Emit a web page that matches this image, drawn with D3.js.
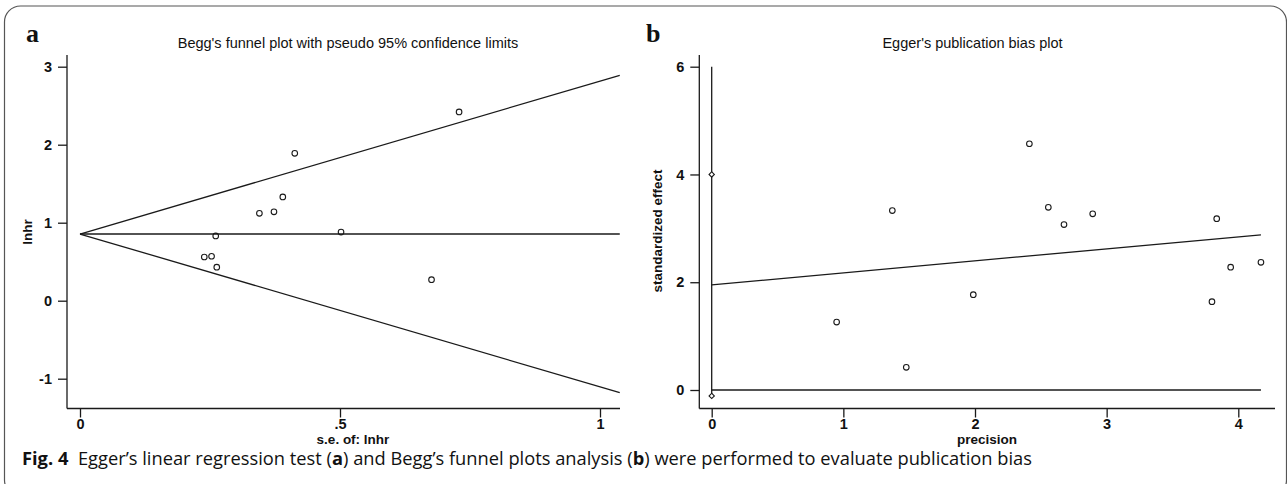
<!DOCTYPE html>
<html>
<head>
<meta charset="utf-8">
<script src="https://cdn.jsdelivr.net/npm/d3@7"></script>
<style>
  body { margin: 0; background: #fff; }
  svg text { fill: #111; }
</style>
</head>
<body>
<svg id="chart" width="1287" height="484"></svg>
<script>
// Panel a: Begg's funnel plot (se, lnhr)
const beggSe = [0.345, 0.373, 0.261, 0.239, 0.253, 0.263, 0.390, 0.413, 0.729, 0.502, 0.676];
const beggLnhr = [1.12, 1.14, 0.83, 0.56, 0.57, 0.43, 1.33, 1.89, 2.42, 0.88, 0.27];
const beggPooled = 0.855;
const beggSeMax = 1.038;
const beggXTicks = [0, 0.5, 1];
const beggXLabels = ['0', '.5', '1'];
const beggYTicks = [-1, 0, 1, 2, 3];

// Panel b: Egger's publication bias plot (precision, standardized effect)
const eggerPrecision = [1.372, 2.413, 2.557, 2.676, 2.894, 3.836, 0.949, 1.478, 1.987, 3.800, 3.942, 4.172];
const eggerEffect = [3.33, 4.57, 3.39, 3.07, 3.27, 3.18, 1.26, 0.42, 1.77, 1.64, 2.28, 2.37];
const eggerIntercept = 1.95;
const eggerSlope = 0.223;
const eggerCI = [-0.11, 4.0];
const eggerXTicks = [0, 1, 2, 3, 4];
const eggerYTicks = [0, 2, 4, 6];

const svg = d3.select('#chart');
const ink = '#1a1a1a';

// outer frame
svg.append('rect')
  .attr('x', 4.5).attr('y', 6).attr('width', 1282).attr('height', 490)
  .attr('rx', 16).attr('ry', 16)
  .attr('fill', 'none').attr('stroke', '#555').attr('stroke-width', 1.2);

function line(g, x1, y1, x2, y2) {
  g.append('line')
    .attr('x1', x1).attr('y1', y1).attr('x2', x2).attr('y2', y2)
    .attr('stroke', ink).attr('stroke-width', 1.3);
}

function styleAxis(g) {
  g.select('.domain').remove();
  g.selectAll('.tick line').attr('stroke', ink).attr('stroke-width', 1.3);
  g.selectAll('.tick text')
    .style('font-family', '"Liberation Sans", Arial, sans-serif')
    .style('font-weight', 'bold')
    .style('font-size', '14.5px')
    .attr('fill', ink);
}

function drawFrame(opt) {
  const g = svg.append('g');
  // axis lines
  line(g, opt.axisX, 55, opt.axisX, 408.5);
  line(g, opt.axisX, 408.5, opt.axisEnd, 408.5);

  g.append('g')
    .attr('transform', `translate(${opt.axisX},0)`)
    .call(d3.axisLeft(opt.y).tickValues(opt.yTicks).tickSize(9).tickPadding(6).tickFormat(d => String(d)))
    .call(styleAxis);

  g.append('g')
    .attr('transform', 'translate(0,408.5)')
    .call(d3.axisBottom(opt.x).tickValues(opt.xTicks).tickSize(9).tickPadding(1)
      .tickFormat((d, i) => opt.xLabels ? opt.xLabels[i] : String(d)))
    .call(styleAxis);

  // panel letter
  g.append('text')
    .attr('x', opt.letterX).attr('y', 42)
    .style('font-family', '"Liberation Serif", "Times New Roman", serif')
    .style('font-weight', 'bold').style('font-size', '26px')
    .text(opt.letter);

  // title
  g.append('text')
    .attr('x', opt.titleX).attr('y', 48).attr('text-anchor', 'middle')
    .style('font-family', '"Liberation Sans", Arial, sans-serif')
    .style('font-size', '14.5px')
    .text(opt.title);

  // axis titles
  g.append('text')
    .attr('x', opt.xTitleX).attr('y', opt.xTitleY).attr('text-anchor', 'middle')
    .style('font-family', '"Liberation Sans", Arial, sans-serif')
    .style('font-weight', 'bold').style('font-size', '13.5px')
    .text(opt.xTitle);

  g.append('text')
    .attr('transform', `translate(${opt.yTitleX},${opt.yTitleY}) rotate(-90)`)
    .attr('text-anchor', 'middle')
    .style('font-family', '"Liberation Sans", Arial, sans-serif')
    .style('font-weight', 'bold').style('font-size', '13.5px')
    .text(opt.yTitle);

  return g;
}

function drawPoints(g, xs, ys, x, y) {
  g.selectAll('circle.pt')
    .data(xs.map((v, i) => [v, ys[i]]))
    .enter()
    .append('circle')
    .attr('class', 'pt')
    .attr('cx', d => x(d[0]))
    .attr('cy', d => y(d[1]))
    .attr('r', 2.8)
    .attr('fill', 'none')
    .attr('stroke', ink)
    .attr('stroke-width', 1.1);
}

// ---- panel a ----
const xA = d3.scaleLinear().domain([0, 1]).range([80, 600]);
const yA = d3.scaleLinear().domain([0, 3]).range([300.7, 66.7]);

const gA = drawFrame({
  x: xA, y: yA, axisX: 67, axisEnd: 620,
  xTicks: beggXTicks, xLabels: beggXLabels, yTicks: beggYTicks,
  letter: 'a', letterX: 26,
  title: "Begg's funnel plot with pseudo 95% confidence limits", titleX: 348,
  xTitle: 's.e. of: lnhr', xTitleX: 353, xTitleY: 444,
  yTitle: 'lnhr', yTitleX: 32, yTitleY: 232
});

line(gA, xA(0), yA(beggPooled), xA(beggSeMax), yA(beggPooled));
line(gA, xA(0), yA(beggPooled), xA(beggSeMax), yA(beggPooled + 1.96 * beggSeMax));
line(gA, xA(0), yA(beggPooled), xA(beggSeMax), yA(beggPooled - 1.96 * beggSeMax));
drawPoints(gA, beggSe, beggLnhr, xA, yA);

// ---- panel b ----
const xB = d3.scaleLinear().domain([0, 4]).range([711.7, 1238.3]);
const yB = d3.scaleLinear().domain([0, 6]).range([390, 66.7]);

const gB = drawFrame({
  x: xB, y: yB, axisX: 699.3, axisEnd: 1275,
  xTicks: eggerXTicks, yTicks: eggerYTicks,
  letter: 'b', letterX: 646,
  title: "Egger's publication bias plot", titleX: 972.5,
  xTitle: 'precision', xTitleX: 987, xTitleY: 444,
  yTitle: 'standardized effect', yTitleX: 662, yTitleY: 231
});

const precMax = d3.max(eggerPrecision);
line(gB, xB(0), yB(6), xB(0), yB(eggerCI[0]));
line(gB, xB(0), yB(0), xB(precMax), yB(0));
line(gB, xB(0), yB(eggerIntercept), xB(precMax), yB(eggerIntercept + eggerSlope * precMax));

gB.selectAll('path.ci')
  .data(eggerCI)
  .enter()
  .append('path')
  .attr('class', 'ci')
  .attr('d', d3.symbol(d3.symbolSquare, 14))
  .attr('transform', d => `translate(${xB(0)},${yB(d)}) rotate(45)`)
  .attr('fill', '#fff')
  .attr('stroke', ink)
  .attr('stroke-width', 1.1);

drawPoints(gB, eggerPrecision, eggerEffect, xB, yB);

// ---- caption ----
const cap = svg.append('text')
  .attr('x', 22).attr('y', 465)
  .attr('textLength', 1010).attr('lengthAdjust', 'spacingAndGlyphs')
  .style('font-family', '"Open Sans", "Noto Sans", sans-serif')
  .style('font-size', '17.5px')
  .attr('fill', '#222');
const parts = [
  ['Fig. 4', true], ['\u00a0\u00a0Egger\u2019s linear regression test (', false], ['a', true],
  [') and Begg\u2019s funnel plots analysis (', false], ['b', true],
  [') were performed to evaluate publication bias', false]
];
parts.forEach(([t, b]) => {
  cap.append('tspan').style('font-weight', b ? 'bold' : 'normal').text(t);
});
</script>
</body>
</html>
